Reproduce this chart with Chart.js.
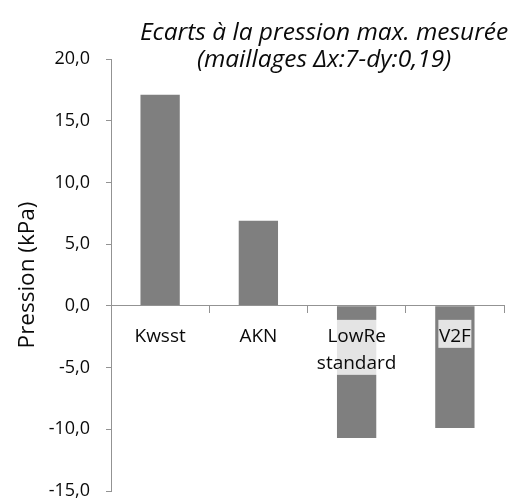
<!DOCTYPE html>
<html><head><meta charset="utf-8">
<script src="https://cdn.jsdelivr.net/npm/chart.js@4"></script>
<style>html,body{margin:0;padding:0;background:#fff}canvas{display:block}</style>
</head><body>
<canvas id="c" width="512" height="501"></canvas>
<script>
const categories = ['Kwsst', 'AKN', ['LowRe', 'standard'], 'V2F'];
const ecarts = [17.1, 6.9, -10.7, -9.9];
const yTickValues = [20, 15, 10, 5, 0, -5, -10, -15];
const yTickLabels = ['20,0', '15,0', '10,0', '5,0', '0,0', '-5,0', '-10,0', '-15,0'];
const titleLines = ['Ecarts à la pression max. mesurée', '(maillages Δx:7-dy:0,19)'];
const yAxisTitle = 'Pression (kPa)';

const TEXT = '#0a0a0a';
const AXIS = '#939393';
const FONT = '"Open Sans", sans-serif';
const XFONT_SIZE = 19;
const XLINE = 27;

const titlePlugin = {
  id: 'italicTitle',
  afterDraw(chart) {
    const ctx = chart.ctx;
    ctx.save();
    ctx.font = 'italic 24.5px ' + FONT;
    ctx.fillStyle = TEXT;
    ctx.textAlign = 'center';
    ctx.textBaseline = 'alphabetic';
    const cx = chart.width * 0.633;
    titleLines.forEach((t, i) => ctx.fillText(t, cx, 39.5 + i * 27));
    ctx.restore();
  }
};

// light translucent box behind the category labels (drawn over the bars, under the text)
const labelBoxPlugin = {
  id: 'labelBox',
  afterDatasetsDraw(chart) {
    const xs = chart.scales.x, ys = chart.scales.y;
    const ctx = chart.ctx;
    const y0 = ys.getPixelForValue(0);
    ctx.save();
    ctx.font = XFONT_SIZE + 'px ' + FONT;
    ctx.fillStyle = 'rgba(255,255,255,0.79)';
    categories.forEach((lab, i) => {
      const lines = Array.isArray(lab) ? lab : [lab];
      const w = Math.max(...lines.map(l => ctx.measureText(l).width)) + 1;
      const cx = xs.getPixelForTick(i);
      ctx.fillRect(cx - w / 2, y0 + 14, w, lines.length * XLINE + 1);
    });
    ctx.restore();
  }
};

new Chart(document.getElementById('c'), {
  type: 'bar',
  data: {
    labels: categories,
    datasets: [{
      data: ecarts,
      backgroundColor: '#7f7f7f',
      borderWidth: 0,
      barPercentage: 0.4,
      categoryPercentage: 1.0
    }]
  },
  options: {
    responsive: false,
    animation: false,
    layout: { padding: { top: 59, bottom: 10, right: 8, left: 0 } },
    plugins: { legend: { display: false }, tooltip: { enabled: false }, title: { display: false } },
    scales: {
      x: {
        position: { y: 0 },
        afterFit(scale) { scale.height = 0; },
        grid: { drawOnChartArea: false, drawTicks: true, tickLength: 7, color: AXIS, offset: true, z: 1 },
        border: { color: AXIS, width: 1, z: 1 },
        ticks: {
          color: TEXT,
          font: { family: FONT, size: XFONT_SIZE, lineHeight: XLINE / XFONT_SIZE },
          padding: 10,
          maxRotation: 0,
          autoSkip: false,
          z: 2
        }
      },
      y: {
        min: -15,
        max: 20,
        afterFit(scale) { scale.width = 111; scale.paddingTop = 0; scale.paddingBottom = 0; },
        afterBuildTicks(scale) { scale.ticks = yTickValues.map(v => ({ value: v })); },
        grid: { drawOnChartArea: false, drawTicks: true, tickLength: 5, color: AXIS },
        border: { color: AXIS, width: 1 },
        ticks: {
          color: TEXT,
          font: { family: FONT, size: 18 },
          padding: 16,
          callback: (v) => { const i = yTickValues.indexOf(v); return i >= 0 ? yTickLabels[i] : ''; }
        },
        title: {
          display: true,
          text: yAxisTitle,
          color: TEXT,
          font: { family: FONT, size: 22.5 },
          padding: { top: 14, bottom: 0 }
        }
      }
    }
  },
  plugins: [labelBoxPlugin, titlePlugin]
});
</script>
</body></html>
